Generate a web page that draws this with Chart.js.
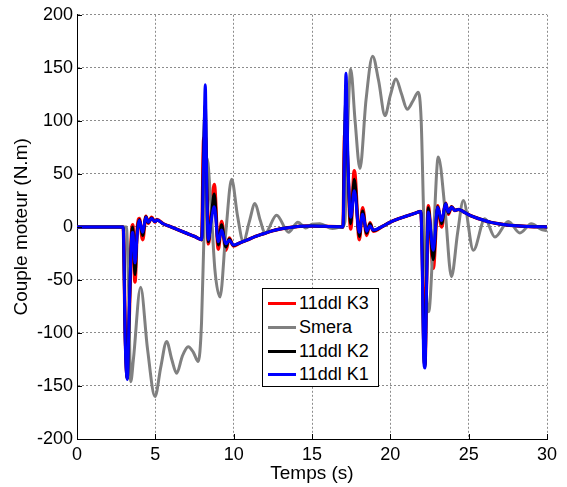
<!DOCTYPE html>
<html>
<head>
<meta charset="utf-8">
<script src="https://cdn.jsdelivr.net/npm/chart.js@4.4.0/dist/chart.umd.min.js"></script>
<style>
  html, body { margin: 0; padding: 0; background: #fff; }
  #wrap { position: relative; width: 567px; height: 487px; }
  #legend {
    position: absolute; left: 262px; top: 288px; width: 115px; height: 97px;
    border: 1px solid #000; background: #fff;
    font: 18px "Liberation Sans", Arial, sans-serif; color: #000;
  }
  .row { position: absolute; left: 0; height: 24px; display: flex; align-items: center; white-space: nowrap; }
  .swatch { width: 28px; height: 3px; margin-left: 5px; margin-right: 3px; }
</style>
</head>
<body>
<div id="wrap">
  <canvas id="torqueChart" width="567" height="487"></canvas>
  <div id="legend"></div>
</div>
<script>
// time axis (s) shared by the three 11ddl curves
const timeK = [0, 2.95, 3.08, 3.21, 3.33, 3.47, 3.56, 3.70, 3.84, 3.98, 4.19, 4.40, 4.55, 4.76, 4.98, 5.10, 5.5, 6.0, 6.5, 7.0, 7.5, 7.96,
  8.08, 8.19, 8.28, 8.38, 8.56, 8.76, 9.02, 9.23, 9.5, 9.72, 9.98, 10.4, 10.83, 11.4, 11.89, 12.4, 12.95, 13.6, 14.23, 15.0, 15.8, 16.6, 16.98,
  17.08, 17.17, 17.30, 17.47, 17.70, 18.02, 18.23, 18.49, 18.70, 18.91, 19.5, 20.0, 20.5, 21.0, 21.5, 21.95,
  22.04, 22.12, 22.21, 22.31, 22.42, 22.74, 23.02, 23.27, 23.53, 23.70, 23.91, 24.12, 24.35, 24.7, 25.08, 25.7, 26.36, 27.0, 27.6, 28.5, 29.3, 30];

const k1 = [0, 0, -110, -144, -80, -15, -5, -34, -8, 6, -5, 9, 4.5, 8, 5, 6.5, 3, 0, -3, -6, -9, -12,
  60, 134, 40, -12, 5, 19, -14, -3, -16, -12.5, -17, -15, -12.5, -9, -6.5, -4, -2, -0.5, 0.5, 0.8, 0.5, 0.2, 0,
  80, 145, 60, 9, 34, -5, 12, -4, 1, -3, 0.5, 4.5, 7.5, 10, 12.5, 14.6,
  -40, -120, -133, -60, 14, -22, 18.6, 6, 21.8, 14, 18.6, 15.5, 16.5, 14, 10.8, 7.5, 4.5, 2.8, 1.6, 0.6, 0.2, 0];

const k2 = [0, 0, -105, -143, -85, -12, 0, -45, -5, 7, -8, 9.5, 4, 8.5, 5, 6.5, 3, 0, -3, -6, -9, -12,
  75, 115, 45, -14, 8, 31, -17, 2, -19, -11.5, -17.5, -15, -12.5, -9, -6.5, -4, -2, -0.5, 0.5, 0.8, 0.5, 0.2, 0,
  88, 120, 55, 3, 45, -9, 15, -6, 3, -3.5, 0.5, 4.5, 7.5, 10, 12.5, 14.6,
  -30, -110, -132, -55, 18, -31, 19, 3, 22, 13, 19, 15.5, 16.5, 14, 10.8, 7.5, 4.5, 2.8, 1.6, 0.6, 0.2, 0];

const k3 = [0, 0, -100, -142, -88, -10, 2, -52, -3, 8, -12, 10, 3.5, 9, 4.5, 7, 3, 0, -3, -6, -9, -12,
  82, 85, 50, -16, 10, 40, -21, 5, -22, -10.5, -18, -15, -12.5, -9, -6.5, -4, -2, -0.5, 0.5, 0.8, 0.5, 0.2, 0,
  86, 90, 50, -2, 53, -12, 18, -8, 4, -4, 0.5, 4.5, 7.5, 10, 12.5, 14.6,
  -20, -100, -130, -50, 20, -39, 20, 0, 22.5, 12, 19, 15.5, 16.5, 14, 10.8, 7.5, 4.5, 2.8, 1.6, 0.6, 0.2, 0];

// Smera curve
const timeSmera = [0, 3.15, 3.28, 3.43, 3.6, 4.06, 4.5, 4.98, 5.35, 5.72, 6.05, 6.36, 6.72, 7.1, 7.42, 7.74, 7.95,
  8.12, 8.3, 8.55, 8.8, 9.13, 9.5, 9.87, 10.25, 10.62, 11.0, 11.36, 11.7, 12.0, 12.74, 13.5, 14.1, 14.6, 15.0, 15.5, 16.3, 16.9,
  17.1, 17.25, 17.47, 17.75, 18.06, 18.45, 18.87, 19.25, 19.66, 20.0, 20.36, 20.7, 21.08, 21.45, 21.78, 21.97,
  22.15, 22.45, 22.75, 23.06, 23.5, 23.9, 24.3, 24.66, 25.3, 26.04, 26.68, 27.53, 28.27, 29.0, 29.6, 30];

const smera = [0, 0, -50, -146, -125, -57, -115, -160, -132, -108, -125, -138, -122, -113, -118, -127, -90,
  0, 65, 20, -40, -66, -5, 45, 10, -14, 5, 22, 6, -6, 11, -5, 4.5, -1, 2.5, 3, -1.5, 0,
  5, 80, 149, 100, 55, 120, 161, 138, 105, 124, 139.5, 126, 111, 119, 127, 100,
  0, -80, -10, 66, 15, -47, -5, 25, -22, 7.7, -9.6, 5, -5.7, 3, -2, -3.8];

const seriesLabels = ['11ddl K3', 'Smera', '11ddl K2', '11ddl K1'];
const seriesColors = ['#ff0000', '#808080', '#000000', '#0000ff'];
const yTicks = [-200, -150, -100, -50, 0, 50, 100, 150, 200];

const toPoints = (ts, vs) => ts.map((t, i) => ({ x: t, y: vs[i] }));

const lineStyle = (label, color, pts, order, width) => ({
  label, data: pts, borderColor: color, backgroundColor: color,
  borderWidth: width, pointRadius: 0, fill: false,
  cubicInterpolationMode: 'monotone', order
});

const tickFont = { family: '"Liberation Sans", Arial, sans-serif', size: 18 };
const titleFont = { family: '"Liberation Sans", Arial, sans-serif', size: 19, lineHeight: 1 };

// inward tick marks, as in the original figure
const innerTicks = {
  id: 'innerTicks',
  afterDraw(chart) {
    const { ctx, chartArea: a, scales: { x, y } } = chart;
    ctx.save();
    ctx.strokeStyle = '#000';
    ctx.lineWidth = 1;
    ctx.beginPath();
    x.ticks.forEach(t => {
      const px = Math.round(x.getPixelForValue(t.value)) + 0.5;
      ctx.moveTo(px, a.bottom);
      ctx.lineTo(px, a.bottom - 5);
    });
    y.ticks.forEach(t => {
      const py = Math.round(y.getPixelForValue(t.value)) + 0.5;
      ctx.moveTo(a.left, py);
      ctx.lineTo(a.left + 5, py);
    });
    ctx.stroke();
    ctx.restore();
  }
};

const ctx = document.getElementById('torqueChart').getContext('2d');
new Chart(ctx, {
  type: 'line',
  data: {
    datasets: [
      lineStyle(seriesLabels[0], seriesColors[0], toPoints(timeK, k3), 3, 3.5),
      lineStyle(seriesLabels[1], seriesColors[1], toPoints(timeSmera, smera), 2, 3),
      lineStyle(seriesLabels[2], seriesColors[2], toPoints(timeK, k2), 1, 3),
      lineStyle(seriesLabels[3], seriesColors[3], toPoints(timeK, k1), 0, 3)
    ]
  },
  options: {
    responsive: false,
    animation: false,
    layout: { padding: { left: 0, right: 20, top: 14, bottom: 0 } },
    plugins: { legend: { display: false }, tooltip: { enabled: false } },
    scales: {
      x: {
        type: 'linear', min: 0, max: 30,
        ticks: { stepSize: 5, color: '#000', font: tickFont, padding: 5, maxRotation: 0 },
        grid: { color: '#8c8c8c', lineWidth: 1, drawTicks: false },
        border: { display: true, color: '#000', width: 1, dash: [2, 2] },
        title: { display: true, text: 'Temps (s)', color: '#000', font: titleFont, padding: { top: 0, bottom: 4 } },
        afterFit: s => { s.height = 48; }
      },
      y: {
        type: 'linear', min: -200, max: 200,
        afterBuildTicks: s => { s.ticks = yTicks.map(v => ({ value: v })); },
        ticks: { color: '#000', font: tickFont, padding: 4 },
        grid: { color: '#8c8c8c', lineWidth: 1, drawTicks: false },
        border: { display: true, color: '#000', width: 1, dash: [2, 2] },
        title: { display: true, text: 'Couple moteur (N.m)', color: '#000', font: titleFont, padding: { top: 12, bottom: 0 } },
        afterFit: s => { s.width = 77; }
      }
    }
  },
  plugins: [innerTicks]
});

// legend box inside the axes
const legend = document.getElementById('legend');
const rowCenters = [14, 38.5, 62, 85.5];
seriesLabels.forEach((label, i) => {
  const row = document.createElement('div');
  row.className = 'row';
  row.style.top = (rowCenters[i] - 12) + 'px';
  row.innerHTML = `<span class="swatch" style="background:${seriesColors[i]}"></span><span>${label}</span>`;
  legend.appendChild(row);
});
</script>
</body>
</html>
